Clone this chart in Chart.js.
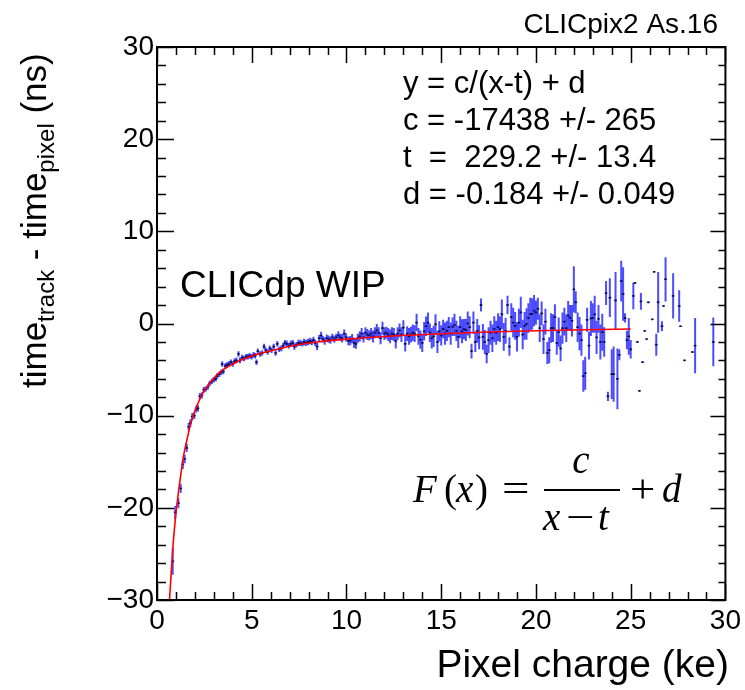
<!DOCTYPE html>
<html>
<head>
<meta charset="utf-8">
<script src="https://cdn.jsdelivr.net/npm/chart.js@4.4.1/dist/chart.umd.min.js"></script>
<style>
  html, body { margin: 0; padding: 0; background: #fff; }
  canvas { display: block; }
</style>
</head>
<body>
<canvas id="chart" width="745" height="690"></canvas>
<script>
// ---- data (charge in ke, time difference in ns) ----
const chargeRise = [0.83,0.96,1.13,1.25,1.36,1.46,1.57,1.67,1.76,1.86,1.97,2.07,2.16,2.26,2.37,2.47,2.57,2.68,2.78,2.89,
  2.99,3.10,3.18,3.29,3.39,3.44,3.50,3.60,3.69,3.79,3.90,4.00,4.09,4.19,4.30,4.38,4.49,4.59,4.70,4.80,
  4.89,4.99,5.10,5.18,5.25,5.32,5.44,5.55,5.65,5.74,5.84,5.95,6.05,6.16,6.26,6.35,6.45,6.56,6.66,6.75,
  6.85,6.96,7.06,7.17,7.25,7.36,7.46,7.57,7.67,7.76,7.86,7.97,8.07,8.17,8.26,8.35,8.45,8.56,8.66,8.75,
  8.85,8.96,9.06,9.15,9.25,9.36,9.46,9.57,9.67,9.77,9.88,9.98];
const deltaRise = [-25.8,-20.5,-19.5,-17.9,-15.3,-14.7,-13.5,-11.2,-10.8,-10.1,-10.0,-9.3,-9.2,-7.9,-7.8,-7.2,-7.1,-6.9,-6.5,-6.3,
  -6.1,-6.0,-5.7,-5.5,-5.3,-4.4,-5.2,-4.6,-4.5,-4.4,-4.2,-4.4,-4.1,-4.0,-3.3,-4.0,-3.7,-3.8,-3.6,-3.6,
  -3.5,-3.6,-3.4,-3.5,-4.2,-3.0,-3.3,-3.2,-2.5,-2.9,-3.1,-2.7,-2.9,-2.5,-3.2,-2.2,-2.8,-2.7,-2.4,-2.1,
  -2.2,-2.4,-2.2,-2.1,-2.5,-2.3,-2.1,-2.1,-2.2,-2.0,-2.1,-2.0,-1.9,-2.0,-1.8,-2.1,-2.5,-1.6,-1.3,-1.7,
  -1.9,-1.6,-1.7,-1.8,-1.5,-1.7,-1.5,-1.3,-1.5,-1.6,-1.1,-1.5];
const errRise = [1.45,0.7,0.55,0.5,0.5,0.45,0.45,0.4,0.4,0.4,0.35,0.35,0.35,0.35,0.35,0.3,0.3,0.3,0.3,0.3,
  0.3,0.3,0.3,0.3,0.3,0.3,0.3,0.3,0.3,0.3,0.3,0.3,0.3,0.3,0.3,0.3,0.3,0.3,0.3,0.3,
  0.3,0.3,0.3,0.3,0.3,0.3,0.3,0.3,0.3,0.3,0.3,0.3,0.3,0.3,0.3,0.3,0.3,0.3,0.3,0.3,
  0.35,0.3,0.35,0.3,0.35,0.3,0.35,0.35,0.3,0.35,0.35,0.35,0.35,0.35,0.35,0.35,0.4,0.35,0.4,0.35,
  0.4,0.4,0.4,0.4,0.4,0.4,0.4,0.45,0.4,0.45,0.45,0.45];

const chargeFlat = [10.1,10.2,10.3,10.4,10.5,10.6,10.7,10.8,10.9,11.0,11.1,11.2,11.3,11.4,11.5,11.6,11.7,11.8,11.9,
  12.0,12.1,12.2,12.3,12.4,12.5,12.6,12.7,12.8,12.9,13.0,13.1,13.2,13.3,13.4,13.5,13.6,13.7,13.8,13.9,
  14.0,14.1,14.2,14.3,14.4,14.5,14.6,14.7,14.8,14.9];
const deltaFlat = [-1.9,-1.85,-1.65,-2.1,-2.2,-1.6,-1.4,-1.1,-1.5,-1.0,-1.2,-1.3,-1.1,-1.4,-1.0,-0.75,-1.0,-1.6,-0.5,
  -1.1,-1.0,-1.2,-1.4,-1.1,-1.2,-1.9,-1.1,-0.75,-1.2,-0.45,-2.2,-1.1,-1.4,-1.2,-1.0,-1.1,0.1,-1.4,-1.75,
  -2.1,-0.85,-0.3,0.1,-1.0,-1.6,-1.4,-0.1,-2.0,-0.85];
const errFlat = [0.5,0.5,0.5,0.55,0.55,0.5,0.55,0.6,0.55,0.6,0.6,0.55,0.6,0.65,0.6,0.7,0.6,0.65,0.7,
  0.7,0.65,0.7,0.75,0.7,0.7,0.8,0.7,0.75,0.8,0.8,0.85,0.8,0.9,0.85,0.9,0.9,0.95,0.9,1.0,
  1.0,1.0,1.05,1.1,1.0,1.1,1.15,1.1,1.2,1.1];

const chargeMid = [15.0,15.1,15.2,15.3,15.4,15.5,15.6,15.7,15.8,15.9,16.0,16.1,16.2,16.3,16.4,16.5,16.6,16.7,16.8,16.9,
  17.0,17.1,17.2,17.3,17.4,17.5,17.6,17.7,17.8,17.9,18.0,18.1,18.2,18.3,18.4,18.5,18.6,18.7,18.8,18.9,
  19.0,19.1,19.2,19.3,19.4,19.5,19.6,19.7,19.8,19.9];
const deltaMid = [-1.3,-0.6,-1.1,-0.8,-0.4,-1.1,-0.35,-0.15,-0.8,-1.45,-0.4,-0.85,-0.6,-0.7,0.0,-0.4,-3.0,0.1,-2.0,-0.8,
  -1.5,2.0,-1.45,-2.0,-3.3,-1.8,-1.0,-1.6,-0.6,-1.0,-0.4,-0.6,1.0,-1.45,-0.8,2.0,-2.5,0.7,0.1,-0.25,
  -1.45,0.1,1.2,-1.2,-0.25,-0.05,0.6,1.0,1.05,1.4];
const errMid = [1.1,1.0,1.2,1.1,1.1,1.2,1.0,1.2,1.1,1.2,1.2,1.3,1.1,1.2,1.3,1.2,0.8,1.2,1.1,1.3,
  1.3,0.7,1.4,1.3,1.0,1.4,1.3,1.5,1.4,1.3,1.5,1.4,1.6,1.5,1.4,1.0,1.0,1.5,1.6,1.5,
  1.6,1.5,1.7,1.6,1.5,1.7,1.6,1.8,1.7,1.7];

const chargeTail = [20.0,20.1,20.2,20.3,20.4,20.5,20.6,20.7,20.8,20.9,21.0,21.1,21.2,21.3,21.4,21.5,21.6,21.7,21.8,21.9,
  22.0,22.1,22.2,22.3,22.4,22.5,22.6,22.7,22.8,22.9,23.0,23.1,23.2,23.3,23.4,23.5,23.6,23.7,23.8,23.9,
  24.0,24.1,24.2,24.3,24.4,24.5,24.6,24.7,24.8,24.9,25.0];
const deltaTail = [1.2,1.6,-0.5,1.1,-1.7,0.2,-3.2,-2.9,-0.5,-0.5,0.7,-2.1,-0.95,-2.7,-0.5,0.2,-0.5,0.85,0.6,0.3,
  3.7,2.3,-0.4,-1.1,-1.8,-5.7,-5.4,0.4,-2.4,0.55,0.6,1.0,-1.5,0.5,-2.0,-0.95,-2.0,3.3,-7.9,2.8,
  -5.5,-5.5,2.5,-6.0,-3.4,4.6,3.2,0.6,-1.8,-1.4,-2.8];
const errTail = [1.3,1.2,1.5,1.3,1.6,1.4,1.2,1.4,1.6,1.5,1.4,1.3,1.6,1.4,1.7,1.5,1.5,1.6,1.4,1.7,
  2.5,1.2,1.6,1.8,1.7,1.7,1.8,1.3,1.5,1.9,1.6,2.0,1.8,1.5,1.9,2.0,1.6,1.3,0.5,2.1,
  2.7,3.0,3.1,3.3,0.6,2.2,2.9,0.5,1.0,2.0,1.0];

const chargeSparse = [25.14,25.23,25.35,25.46,25.54,25.63,25.74,25.84,25.93,26.14,26.24,26.35,26.45,26.65,26.73,26.84,
  27.24,27.56,27.63,27.84,28.26,28.4,29.36];
const deltaSparse = [3.0,4.4,-2.0,-7.3,2.4,-4.2,-0.8,-1.7,2.3,0.45,5.6,-2.3,2.3,-0.3,1.9,4.8,3.0,1.9,-0.3,-4.0,-3.1,-2.4,-2.0];
const errSparse = [1.45,0,0,0,0.9,0,0,0,0,0,0,1.2,3.3,0.55,0,2.4,2.45,1.7,0,0,0,3.0,2.65];

// fitted curve F(x) = c/(x-t) + d, sampled off the red line
const fitCharge = [0.66,0.75,0.85,0.95,1.05,1.15,1.25,1.39,1.57,1.83,2.09,2.43,2.78,3.3,4.0,4.87,5.74,6.6,7.48,8.35,
  10,12.5,15,17.5,20,22.5,25];
const fitDelta = [-30,-27.0,-24.0,-21.6,-19.7,-18.0,-16.5,-14.5,-12.7,-10.5,-9.0,-7.5,-6.5,-5.3,-4.4,-3.6,-3.1,-2.65,-2.3,-2.04,
  -1.7,-1.35,-1.12,-0.92,-0.78,-0.67,-0.6];

const fitLines = ['y = c/(x-t) + d', 'c = -17438 +/- 265', 't  =  229.2 +/- 13.4', 'd = -0.184 +/- 0.049'];

// ---- build points ----
const charge = [...chargeRise, ...chargeFlat, ...chargeMid, ...chargeTail, ...chargeSparse];
const delta = [...deltaRise, ...deltaFlat, ...deltaMid, ...deltaTail, ...deltaSparse];
const errs = [...errRise, ...errFlat, ...errMid, ...errTail, ...errSparse];
const points = charge.map((x, i) => ({ x: x, y: delta[i], err: errs[i] }));
const fitPoints = fitCharge.map((x, i) => ({ x: x, y: fitDelta[i] }));

const SANS = '"Liberation Sans", Arial, Helvetica, sans-serif';
const SERIF = '"Liberation Serif", "Times New Roman", serif';

// blue error bars under the markers
const errorBars = {
  id: 'errorBars',
  beforeDatasetsDraw(chart) {
    const { ctx, chartArea: a, scales: { x, y } } = chart;
    ctx.save();
    ctx.beginPath();
    ctx.rect(a.left, a.top, a.right - a.left, a.bottom - a.top);
    ctx.clip();
    ctx.strokeStyle = 'rgba(0,0,255,0.7)';
    points.forEach(p => {
      const px = x.getPixelForValue(p.x);
      ctx.lineWidth = 2;
      if (p.err > 0) {
        ctx.beginPath();
        ctx.moveTo(px, y.getPixelForValue(p.y - p.err));
        ctx.lineTo(px, y.getPixelForValue(p.y + p.err));
        ctx.stroke();
      }
      ctx.lineWidth = 1.4;
      const py = y.getPixelForValue(p.y);
      ctx.beginPath();
      ctx.moveTo(x.getPixelForValue(p.x - 0.08), py);
      ctx.lineTo(x.getPixelForValue(p.x + 0.08), py);
      ctx.stroke();
    });
    ctx.restore();
  }
};

// glyph drawn with a horizontal stretch (LaTeX operators are wider than Times ones)
function wideText(ctx, s, x0, y0, sx) {
  ctx.save();
  ctx.translate(x0, y0);
  ctx.scale(sx, 1);
  ctx.fillText(s, 0, 0);
  ctx.restore();
}

// ROOT-like frame, inward ticks and all the text
const frameAndText = {
  id: 'frameAndText',
  afterDraw(chart) {
    const { ctx, chartArea: a, scales: { x, y } } = chart;
    ctx.save();
    ctx.strokeStyle = '#000';
    ctx.lineWidth = 1.5;
    for (let v = 0; v <= 30; v += 1) {
      const px = Math.round(x.getPixelForValue(v)) + 0.5;
      const len = v % 5 === 0 ? 16 : 8;
      ctx.beginPath();
      ctx.moveTo(px, a.bottom); ctx.lineTo(px, a.bottom - len);
      ctx.moveTo(px, a.top); ctx.lineTo(px, a.top + len);
      ctx.stroke();
    }
    for (let v = -30; v <= 30; v += 2) {
      const py = Math.round(y.getPixelForValue(v)) + 0.5;
      const major = v % 10 === 0;
      ctx.beginPath();
      ctx.moveTo(a.left, py); ctx.lineTo(a.left + (major ? 17 : 9), py);
      ctx.moveTo(a.right, py); ctx.lineTo(a.right - (major ? 15 : 7), py);
      ctx.stroke();
    }
    ctx.lineWidth = 2;
    ctx.strokeRect(a.left, a.top, a.right - a.left, a.bottom - a.top);

    ctx.fillStyle = '#000';
    ctx.textBaseline = 'alphabetic';

    // top-right label
    ctx.font = '28px ' + SANS;
    ctx.textAlign = 'right';
    ctx.fillText('CLICpix2 As.16', 718, 33);

    // x axis title
    ctx.font = '39px ' + SANS;
    ctx.fillText('Pixel charge (ke)', 729, 677);

    // fit parameter box
    ctx.textAlign = 'left';
    ctx.font = '31px ' + SANS;
    fitLines.forEach((s, i) => ctx.fillText(s, 403, 93 + i * 37));

    // CLICdp WIP
    ctx.font = '37px ' + SANS;
    ctx.fillText('CLICdp WIP', 180, 297);

    // y axis title with subscripts
    ctx.save();
    ctx.translate(46, 388);
    ctx.rotate(-Math.PI / 2);
    const big = '35px ' + SANS, small = '24px ' + SANS;
    let cx = 0;
    [['time', big, 0], ['track', small, 8], [' - time', big, 0], ['pixel', small, 8], [' (ns)', big, 0]].forEach(([t, f, dy]) => {
      ctx.font = f;
      ctx.fillText(t, cx, dy);
      cx += ctx.measureText(t).width;
    });
    ctx.restore();

    // F(x) = c/(x-t) + d
    const it = 'italic 39px ' + SERIF, up = '39px ' + SERIF;
    ctx.font = it; ctx.fillText('F', 413, 502);
    ctx.font = up; ctx.fillText('(', 444, 502);
    ctx.font = it; ctx.fillText('x', 456, 502);
    ctx.font = up; ctx.fillText(')', 475, 502);
    wideText(ctx, '=', 502, 502, 1.25);
    ctx.fillRect(544, 489, 76, 2);
    ctx.font = it; ctx.textAlign = 'center'; ctx.fillText('c', 581, 473);
    ctx.textAlign = 'left';
    ctx.fillText('x', 543, 530);
    ctx.font = up; wideText(ctx, '\u2212', 566, 530, 1.3);
    ctx.font = it; ctx.fillText('t', 598, 530);
    ctx.font = up; wideText(ctx, '+', 630, 502, 1.15);
    ctx.font = it; ctx.fillText('d', 662, 502);
    ctx.restore();
  }
};

new Chart(document.getElementById('chart'), {
  type: 'scatter',
  data: {
    datasets: [
      {
        data: fitPoints,
        showLine: true,
        borderColor: '#ff0000',
        borderWidth: 1.6,
        pointRadius: 0,
        cubicInterpolationMode: 'monotone',
        order: 0
      },
      {
        data: points,
        pointStyle: 'rect',
        pointRadius: 1.2,
        backgroundColor: '#111',
        borderWidth: 0,
        order: 1
      }
    ]
  },
  options: {
    responsive: false,
    animation: false,
    devicePixelRatio: 1,
    layout: { padding: { left: 0, right: 17, top: 47, bottom: 0 } },
    plugins: { legend: { display: false }, tooltip: { enabled: false } },
    scales: {
      x: {
        type: 'linear', min: 0, max: 30,
        grid: { display: false, drawTicks: false },
        border: { display: false },
        ticks: { stepSize: 5, padding: 4, color: '#000', font: { family: SANS, size: 28 } },
        afterFit: s => { s.height = 90; }
      },
      y: {
        type: 'linear', min: -30, max: 30,
        grid: { display: false, drawTicks: false },
        border: { display: false },
        ticks: {
          stepSize: 10, padding: 3, color: '#000', font: { family: SANS, size: 28 },
          callback: v => (v < 0 ? '\u2212' + Math.abs(v) : String(v))
        },
        afterFit: s => { s.width = 157; }
      }
    }
  },
  plugins: [errorBars, frameAndText]
});
</script>
</body>
</html>
